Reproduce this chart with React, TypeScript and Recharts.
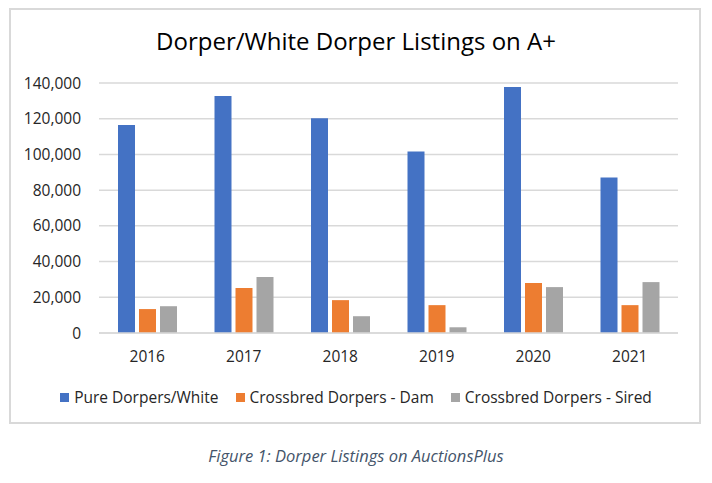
import { BarChart, Bar, XAxis, YAxis, CartesianGrid, Legend } from 'recharts';

const years = ['2016', '2017', '2018', '2019', '2020', '2021'];
const pureDorpers = [116500, 132700, 120300, 101700, 137700, 87100];
const crossDam = [13400, 25200, 18400, 15600, 28000, 15600];
const crossSired = [15000, 31400, 9400, 3200, 25700, 28500];
const yTicks = [0, 20000, 40000, 60000, 80000, 100000, 120000, 140000];

const seriesNames = ['Pure Dorpers/White', 'Crossbred Dorpers - Dam', 'Crossbred Dorpers - Sired'];

const data = years.map((year, i) => ({
    year,
    pure: pureDorpers[i],
    dam: crossDam[i],
    sired: crossSired[i],
}));

const FONT = '"Open Sans", "Noto Sans", sans-serif';

function LegendRow({ payload }: any) {
    // keep the series order instead of the alphabetical default
    const items = [...(payload || [])].sort((a: any, b: any) => seriesNames.indexOf(a.value) - seriesNames.indexOf(b.value));
    return (
        <div style={{ display: 'flex', justifyContent: 'center', alignItems: 'center', gap: 17, fontFamily: FONT, fontSize: 15.5, color: '#262626' }}>
            {items.map((p: any) => (
                <div key={p.value} style={{ display: 'flex', alignItems: 'center' }}>
                    <span style={{ display: 'inline-block', width: 9, height: 9, background: p.color, marginRight: 5 }} />
                    <span>{p.value}</span>
                </div>
            ))}
        </div>
    );
}

export default function App() {
    return (
        <div style={{ position: 'absolute', left: 0, top: 0, width: 712, height: 483, background: '#fff' }}>
            <div style={{ position: 'absolute', left: 9, top: 8, width: 688, height: 412, border: '2px solid #d9d9d9' }} />
            <div style={{ position: 'absolute', left: 0, top: 29, width: 712, textAlign: 'center', fontFamily: FONT, fontSize: 24, lineHeight: '24px', color: '#000' }}>
                Dorper/White Dorper Listings on A+
            </div>
            <div style={{ position: 'absolute', left: 0, top: 0 }}>
                <BarChart width={712} height={483} data={data} margin={{ top: 83, right: 34, left: 0, bottom: 98 }} barSize={17} barGap={4}>
                    <CartesianGrid vertical={false} stroke="#d9d9d9" strokeWidth={1.5} />
                    <XAxis
                        dataKey="year"
                        height={30}
                        axisLine={{ stroke: '#d9d9d9', strokeWidth: 1.5 }}
                        tickLine={false}
                        tickSize={0}
                        tickMargin={18}
                        tick={{ fontSize: 15.5, fill: '#262626', fontFamily: FONT }}
                    />
                    <YAxis
                        width={99}
                        domain={[0, 140000]}
                        ticks={yTicks}
                        axisLine={false}
                        tickLine={false}
                        tickSize={0}
                        tickMargin={18}
                        tickFormatter={(v: number) => v.toLocaleString('en-US')}
                        tick={{ fontSize: 15.5, fill: '#262626', fontFamily: FONT }}
                    />
                    <Legend content={<LegendRow />} wrapperStyle={{ left: 0, width: 712, top: 386 }} />
                    <Bar dataKey="pure" name={seriesNames[0]} fill="#4472C4" isAnimationActive={false} />
                    <Bar dataKey="dam" name={seriesNames[1]} fill="#ED7D31" isAnimationActive={false} />
                    <Bar dataKey="sired" name={seriesNames[2]} fill="#A5A5A5" isAnimationActive={false} />
                </BarChart>
            </div>
            <div style={{ position: 'absolute', left: 0, top: 444, width: 712, textAlign: 'center', fontFamily: FONT, fontStyle: 'italic', fontSize: 16.5, color: '#44546A' }}>
                Figure 1: Dorper Listings on AuctionsPlus
            </div>
        </div>
    );
}
